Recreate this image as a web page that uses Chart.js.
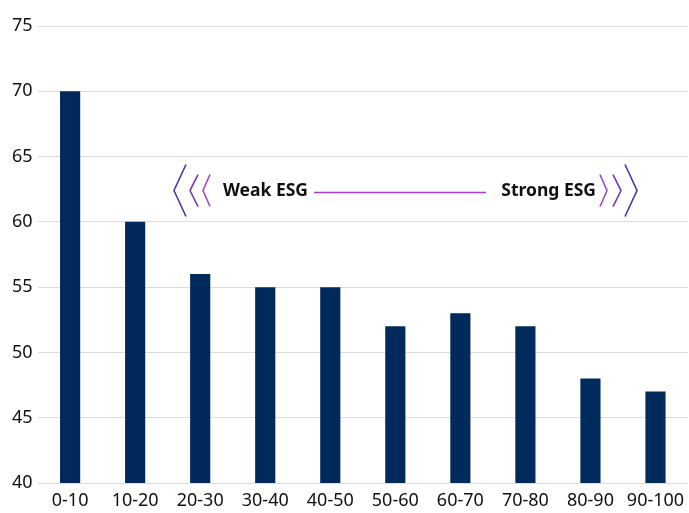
<!DOCTYPE html>
<html>
<head>
<meta charset="utf-8">
<script src="https://cdn.jsdelivr.net/npm/chart.js@4"></script>
<style>
  html, body { margin: 0; padding: 0; background: #fff; }
  #wrap { width: 689px; height: 513px; }
</style>
</head>
<body>
<div id="wrap"><canvas id="grafico"></canvas></div>
<script>
const categorias = ['0-10', '10-20', '20-30', '30-40', '40-50', '50-60', '60-70', '70-80', '80-90', '90-100']
const valores = [70, 60, 56, 55, 55, 52, 53, 52, 48, 47]
const yMin = 40
const yMax = 75
const yPasso = 5

// faixa Weak ESG -> Strong ESG
const anotacao = {
    id: 'anotacao',
    afterDatasetsDraw(chart) {
        const ctx = chart.ctx
        const y = chart.scales.y.getPixelForValue(62.4)
        ctx.save()

        const chevron = (x, h, w, cor, dir) => {
            ctx.beginPath()
            ctx.strokeStyle = cor
            ctx.lineWidth = 1.6
            ctx.moveTo(x + w * dir, y - h)
            ctx.lineTo(x, y)
            ctx.lineTo(x + w * dir, y + h)
            ctx.stroke()
        }
        chevron(174, 26, 12, '#4a36a8', 1)
        chevron(190, 16, 8, '#7a3aa8', 1)
        chevron(203, 16, 7, '#a446cc', 1)
        chevron(637, 26, 12, '#4a36a8', -1)
        chevron(621, 16, 8, '#7a3aa8', -1)
        chevron(607, 16, 7, '#a446cc', -1)

        ctx.font = 'bold 17.5px "Noto Sans"'
        ctx.fillStyle = '#111'
        ctx.textBaseline = 'middle'
        ctx.textAlign = 'left'
        ctx.fillText('Weak ESG', 223, y)
        ctx.textAlign = 'right'
        ctx.fillText('Strong ESG', 596, y)

        const yl = Math.round(y) + 1.5
        ctx.beginPath()
        ctx.strokeStyle = '#a23fd0'
        ctx.lineWidth = 1.5
        ctx.moveTo(314, yl)
        ctx.lineTo(486, yl)
        ctx.stroke()
        ctx.restore()
    }
}

let ctx = document.getElementById('grafico').getContext('2d')
new Chart(ctx, {
    type: 'bar',
    data: {
        labels: categorias,
        datasets: [{
            data: valores,
            backgroundColor: '#002a5c',
            barPercentage: 0.62,
            categoryPercentage: 0.5
        }]
    },
    options: {
        responsive: true,
        maintainAspectRatio: false,
        animation: false,
        layout: { padding: { top: 26, right: 1, bottom: 2, left: 7 } },
        plugins: {
            legend: { display: false },
            tooltip: { enabled: false }
        },
        scales: {
            x: {
                grid: { display: false },
                border: { display: false },
                ticks: {
                    color: '#111',
                    font: { family: 'Noto Sans', size: 18, lineHeight: 1.0 },
                    maxRotation: 0,
                    autoSkip: false,
                    padding: 1
                }
            },
            y: {
                min: yMin,
                max: yMax,
                grid: { color: '#dcdcdc', lineWidth: 1, drawTicks: false },
                border: { display: false },
                ticks: {
                    stepSize: yPasso,
                    color: '#111',
                    font: { family: 'Noto Sans', size: 18 },
                    padding: 5
                }
            }
        }
    },
    plugins: [anotacao]
})
</script>
</body>
</html>
